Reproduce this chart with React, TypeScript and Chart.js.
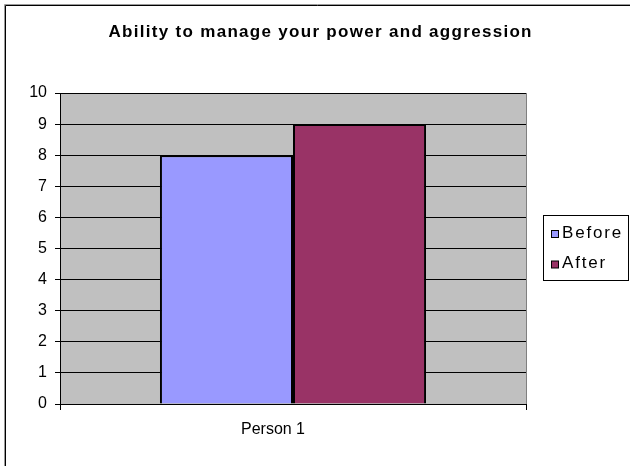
import React, { useEffect, useRef } from "react";
import { Chart, registerables } from "chart.js";

Chart.register(...registerables);

const title = "Ability to manage your power and aggression";
const categories = ["Person 1"];
const seriesNames = ["Before", "After"];
const beforeValues = [8];
const afterValues = [9];
const seriesColors = ["#9999FF", "#993366"];
const yMin = 0;
const yMax = 10;
const yStep = 1;

const FONT = '"Liberation Sans", Arial, sans-serif';

const decorPlugin = {
  id: "decor",
  beforeDraw(chart: any) {
    const { ctx, width, height, chartArea } = chart;
    ctx.save();
    ctx.fillStyle = "#FFFFFF";
    ctx.fillRect(0, 0, width, height);
    // outer frame (top & left)
    ctx.strokeStyle = "#9a9a9a";
    ctx.lineWidth = 1;
    ctx.beginPath();
    ctx.moveTo(4.5, height);
    ctx.lineTo(4.5, 4.5);
    ctx.lineTo(width, 4.5);
    ctx.stroke();
    ctx.strokeStyle = "#000000";
    ctx.beginPath();
    ctx.moveTo(5.5, height);
    ctx.lineTo(5.5, 5.5);
    ctx.lineTo(width, 5.5);
    ctx.stroke();
    // plot area
    ctx.fillStyle = "#C0C0C0";
    ctx.fillRect(chartArea.left, chartArea.top, chartArea.right - chartArea.left, chartArea.bottom - chartArea.top);
    ctx.strokeStyle = "#808080";
    ctx.strokeRect(chartArea.left + 0.5, chartArea.top + 0.5, chartArea.right - chartArea.left, chartArea.bottom - chartArea.top);
    ctx.restore();
  },
  afterDraw(chart: any) {
    const { ctx } = chart;
    ctx.save();
    // title
    ctx.fillStyle = "#000000";
    ctx.font = "bold 17px " + FONT;
    (ctx as any).letterSpacing = "1.3px";
    ctx.textAlign = "left";
    ctx.textBaseline = "alphabetic";
    ctx.fillText(title, 108.5, 37);
    // legend
    (ctx as any).letterSpacing = "0px";
    ctx.fillStyle = "#FFFFFF";
    ctx.fillRect(543.5, 215.5, 85, 65);
    ctx.strokeStyle = "#000000";
    ctx.lineWidth = 1;
    ctx.strokeRect(543.5, 215.5, 85, 65);
    const ds = chart.data.datasets;
    const rows = [237.5, 268];
    ds.forEach((d: any, i: number) => {
      const base = rows[i];
      ctx.fillStyle = d.backgroundColor;
      ctx.fillRect(551.5, base - 7, 7, 7);
      ctx.strokeStyle = "#000000";
      ctx.strokeRect(551.5, base - 7, 7, 7);
      ctx.fillStyle = "#000000";
      ctx.font = "17px " + FONT;
      (ctx as any).letterSpacing = "1.8px";
      ctx.fillText(d.label, 562, base);
      (ctx as any).letterSpacing = "0px";
    });
    ctx.restore();
  },
};

export default function App() {
  const ref = useRef<HTMLCanvasElement>(null);
  useEffect(() => {
    if (!ref.current) return;
    const chart = new Chart(ref.current, {
      type: "bar",
      data: {
        labels: categories,
        datasets: [
          {
            label: seriesNames[0],
            data: beforeValues,
            backgroundColor: seriesColors[0],
            borderColor: "#000000",
            borderWidth: 2,
            barPercentage: 1,
            categoryPercentage: 0.571,
          },
          {
            label: seriesNames[1],
            data: afterValues,
            backgroundColor: seriesColors[1],
            borderColor: "#000000",
            borderWidth: 2,
            barPercentage: 1,
            categoryPercentage: 0.571,
          },
        ],
      },
      options: {
        responsive: false,
        animation: false,
        layout: { padding: { left: 0, top: 93, right: 104, bottom: 0 } },
        plugins: {
          legend: { display: false },
          title: { display: false },
          tooltip: { enabled: false },
        },
        scales: {
          x: {
            offset: true,
            grid: {
              display: true,
              drawOnChartArea: false,
              drawTicks: true,
              tickLength: 6,
              color: "#000000",
              offset: true,
            },
            border: { display: true, color: "#000000", width: 1 },
            ticks: {
              color: "#000000",
              font: { family: FONT, size: 16 },
              padding: 10,
              labelOffset: -20,
            },
            afterFit(scale: any) {
              scale.height = 62;
            },
          },
          y: {
            min: yMin,
            max: yMax,
            grid: {
              color: "#000000",
              lineWidth: 1,
              drawTicks: true,
              tickLength: 5,
            },
            border: { display: true, color: "#000000", width: 1 },
            ticks: {
              stepSize: yStep,
              color: "#000000",
              font: { family: FONT, size: 16 },
              padding: 8,
            },
            afterFit(scale: any) {
              scale.width = 60;
            },
          },
        },
      },
      plugins: [decorPlugin],
    });
    return () => chart.destroy();
  }, []);
  return (
    <div style={{ position: "absolute", left: 0, top: 0, width: 630, height: 466 }}>
      <canvas ref={ref} width={630} height={466} />
    </div>
  );
}
